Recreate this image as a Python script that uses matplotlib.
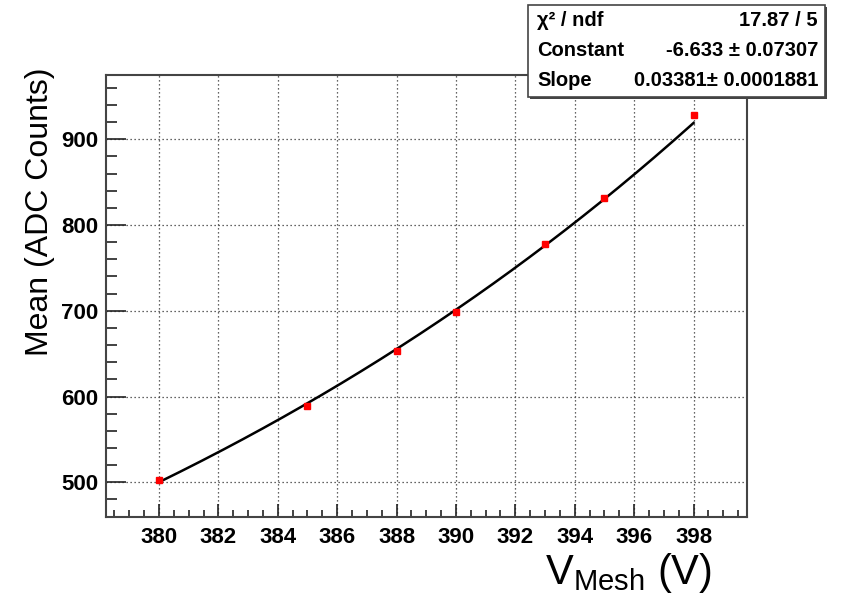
import numpy as np
import matplotlib
matplotlib.use("Agg")
import matplotlib.pyplot as plt
from matplotlib.ticker import MultipleLocator
from matplotlib.patches import Rectangle

plt.rcParams['font.family'] = ['Liberation Sans', 'DejaVu Sans']
plt.rcParams['mathtext.fontset'] = 'custom'
plt.rcParams['mathtext.rm'] = 'Liberation Sans'
plt.rcParams['mathtext.it'] = 'Liberation Sans:italic'
plt.rcParams['mathtext.bf'] = 'Liberation Sans:bold'

# Data
v_mesh = [380, 385, 388, 390, 393, 395, 398]
mean_adc = [502.7, 589.0, 653.5, 699.0, 777.5, 831.5, 928.0]
mean_err = [1.5, 1.5, 1.5, 1.5, 1.5, 1.5, 4.0]

# Fit parameters (expo: exp(Constant + Slope*x))
chi2_text = "17.87 / 5"
const_val, const_err = -6.633, 0.07307
slope_val, slope_err = 0.03381, 0.0001881
fit_range = (380, 398)

x_ticks = [380, 382, 384, 386, 388, 390, 392, 394, 396, 398]
y_ticks = [500, 600, 700, 800, 900]

W, H = 846, 596
fig = plt.figure(figsize=(W / 100, H / 100), dpi=100)
ax = fig.add_axes([105.5 / W, 1 - 517 / H, (747 - 105.5) / W, (517 - 75) / H])

ax.set_xlim(378.2, 399.8)
ax.set_ylim(459.5, 975)

ax.set_xticks(x_ticks)
ax.set_yticks(y_ticks)
ax.xaxis.set_minor_locator(MultipleLocator(0.5))
ax.yaxis.set_minor_locator(MultipleLocator(20))

for lab in ax.get_xticklabels() + ax.get_yticklabels():
    lab.set_fontweight('bold')
ax.tick_params(axis='both', which='major', labelsize=16, direction='in', color='#222222', width=1.2)
ax.tick_params(axis='x', which='major', length=9.5, pad=7)
ax.tick_params(axis='x', which='minor', length=5, direction='in', width=1.2, color='#222222')
ax.tick_params(axis='y', which='major', length=14.5, pad=5)
ax.tick_params(axis='y', which='minor', length=8, direction='in', width=1.2, color='#222222')
ax.tick_params(top=False, right=False, which='both')

for s in ax.spines.values():
    s.set_color('#444444')
    s.set_linewidth(1.5)

ax.grid(True, which='major', linestyle=(0, (1, 2.2)), color='#333333', linewidth=0.9)
ax.set_axisbelow(True)

# Fit curve
xf = np.linspace(fit_range[0], fit_range[1], 300)
yf = np.exp(const_val + slope_val * xf)
ax.plot(xf, yf, color='black', linewidth=1.8, zorder=3)

# Data points
ax.errorbar(v_mesh, mean_adc, yerr=mean_err, fmt='s', color='red', markersize=5,
            elinewidth=1.4, capsize=0, zorder=4, mec='red')

# Axis labels
fig.text(40 / W, 1 - 68 / H, "Mean (ADC Counts)", rotation=90, ha='center', va='top', fontsize=23)
fig.text(712 / W, 1 - 584 / H, r"V$_{\mathrm{Mesh}}$ (V)", ha='right', va='baseline', fontsize=30)

# Stats box
bx0, by0, bx1, by1 = 528, 5, 825, 97
shadow = Rectangle((bx0 / W + 2 / W, 1 - by1 / H - 2 / H), (bx1 - bx0) / W, (by1 - by0) / H,
                   transform=fig.transFigure, facecolor='#444444', edgecolor='none', zorder=9)
box = Rectangle((bx0 / W, 1 - by1 / H), (bx1 - bx0) / W, (by1 - by0) / H,
                transform=fig.transFigure, facecolor='white', edgecolor='#444444', linewidth=1.2, zorder=10)
fig.patches.extend([shadow, box])

rows = [
    ("\u03c7\u00b2 / ndf", chi2_text, 20),
    ("Constant", f"{const_val:.3f} \u00b1 {const_err:.5f}", 50),
    ("Slope", f"{slope_val:.5f}\u00b1 {slope_err:.7f}", 80),
]
for left, right, yc in rows:
    fig.text(537 / W, 1 - yc / H, left, ha='left', va='center', fontsize=14.5, fontweight='bold', zorder=11)
    fig.text(818 / W, 1 - yc / H, right, ha='right', va='center', fontsize=14.5, fontweight='bold', zorder=11)

fig.savefig("out.png", dpi=100)
